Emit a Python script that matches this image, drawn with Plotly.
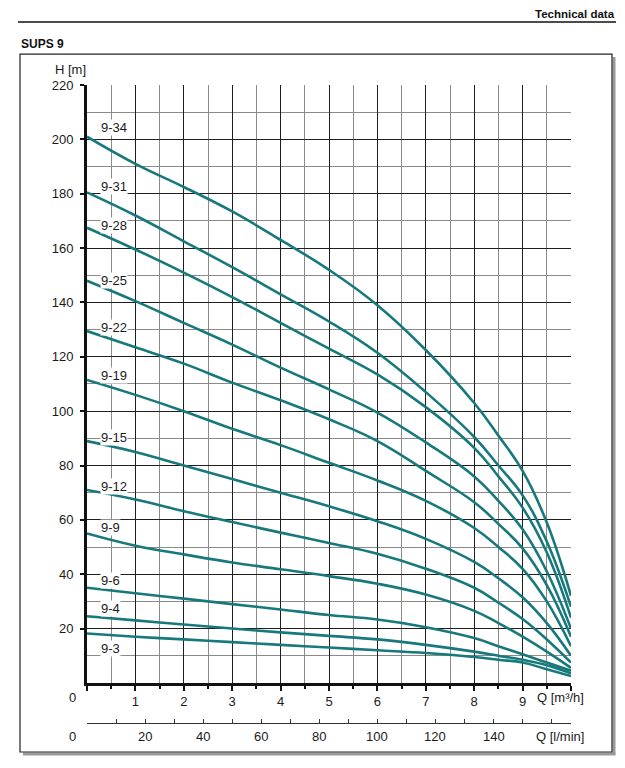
import plotly.graph_objects as go

W, H = 625, 768

# ---------------- data ----------------
q_m3h = [0, 1, 2, 3, 4, 5, 6, 7, 8, 8.5, 9, 9.5, 10]

curve_names = ["9-34", "9-31", "9-28", "9-25", "9-22", "9-19",
               "9-15", "9-12", "9-9", "9-6", "9-4", "9-3"]

h_9_34 = [201, 191, 182.5, 173.5, 163, 152, 139, 122.5, 103, 91, 78, 59, 32]
h_9_31 = [180.5, 172, 162.5, 153, 143, 133, 121.5, 107, 90.5, 80, 69, 52, 28]
h_9_28 = [167.5, 159.5, 151, 142, 132.5, 123, 113.5, 101.5, 86.5, 76, 64.5, 48, 24]
h_9_25 = [148, 140.5, 132.5, 124.5, 116, 108, 99.5, 88.5, 76, 67, 56.5, 41, 20]
h_9_22 = [129.5, 123.5, 117.5, 110.5, 104, 97, 89, 78, 66.5, 58.5, 49.5, 36, 17]
h_9_19 = [111.5, 106, 100, 93.5, 87.5, 81, 74.5, 67, 57, 50, 42, 30, 13.5]
h_9_15 = [89, 85, 80, 75, 70, 65, 59.5, 53, 44.5, 38.5, 31.5, 22, 10]
h_9_12 = [71, 67.5, 63.2, 59.2, 55.3, 51.5, 47.5, 42, 35, 29.5, 23.5, 16, 7.5]
h_9_9 = [55, 50.5, 47.3, 44.3, 41.8, 39.3, 36.5, 32.5, 26.5, 22, 17, 11.5, 5.5]
h_9_6 = [35, 33, 31, 29, 27, 25, 23.3, 20.5, 16.5, 13.5, 10.5, 7.5, 4.5]
h_9_4 = [24.5, 23, 21.5, 20, 18.6, 17.3, 16, 14, 11.5, 10, 8.5, 6.5, 3.5]
h_9_3 = [18.2, 17, 16, 15, 14, 13, 12, 11, 9.5, 8.5, 7.5, 5, 2.5]

curves = [h_9_34, h_9_31, h_9_28, h_9_25, h_9_22, h_9_19,
          h_9_15, h_9_12, h_9_9, h_9_6, h_9_4, h_9_3]

# curve label heights (m)
label_h = [204.5, 182.8, 168.5, 148.2, 130.9, 113.2,
           90.4, 72.3, 57.2, 37.7, 27.3, 12.5]
label_q = 0.27

x_ticks = [0, 1, 2, 3, 4, 5, 6, 7, 8, 9, 10]
x_ticktext = ["", "1", "2", "3", "4", "5", "6", "7", "8", "9", ""]
y_ticks = [20, 40, 60, 80, 100, 120, 140, 160, 180, 200, 220]
lmin_ticks = [0, 10, 20, 30, 40, 50, 60, 70, 80, 90, 100, 110, 120, 130, 140, 150, 160]
lmin_labels = [20, 40, 60, 80, 100, 120, 140]

Q_MAX = 10
LMIN_MAX = Q_MAX * 1000 / 60

# ---------------- figure ----------------
TEAL = "#17797b"
FONT = "Liberation Sans, Arial, sans-serif"
FS = 13

TOP_OFF = 8.0      # observed offset of the rendered page
EFF_H = H - TOP_OFF

def px_x(p):
    return p / W

def px_y(p):
    return 1 - (p - TOP_OFF) / EFF_H

fig = go.Figure()

for name, h in zip(curve_names, curves):
    fig.add_trace(go.Scatter(
        x=q_m3h, y=h, mode="lines", name=name,
        line=dict(color=TEAL, width=2.6, shape="spline", smoothing=1.2),
        showlegend=False, hoverinfo="skip"))

fig.add_trace(go.Scatter(x=[0, LMIN_MAX], y=[0, 0], xaxis="x2", mode="lines",
                         line=dict(width=0, color="rgba(0,0,0,0)"),
                         showlegend=False, hoverinfo="skip"))

xdom = [px_x(87), px_x(571)]
ydom = [px_y(683), px_y(86)]

fig.update_layout(
    width=W, height=H, autosize=False,
    margin=dict(l=0, r=0, t=0, b=0),
    paper_bgcolor="white", plot_bgcolor="white",
    font=dict(family=FONT, size=FS, color="#1a1a1a"),
    xaxis=dict(
        domain=xdom, range=[0, Q_MAX], anchor="y",
        tickmode="array", tickvals=x_ticks, ticktext=x_ticktext,
        ticks="outside", ticklen=5, tickwidth=1.5, tickcolor="#111",
        showline=True, linewidth=3, linecolor="#111",
        showgrid=True, gridcolor="#1e1e1e", gridwidth=1,
        minor=dict(dtick=0.5, tick0=0, showgrid=True, gridcolor="#8a8a8a",
                   gridwidth=1.4, ticks="outside", ticklen=3, tickcolor="#111"),
        zeroline=False, tickfont=dict(size=FS, family=FONT),
        fixedrange=True,
    ),
    xaxis2=dict(
        domain=xdom, range=[0, LMIN_MAX], anchor="free", overlaying="x",
        position=px_y(723), side="bottom",
        tickmode="array", tickvals=lmin_ticks, showticklabels=False,
        ticks="inside", ticklen=4, tickwidth=1, tickcolor="#333",
        showline=True, linewidth=1.3, linecolor="#333",
        showgrid=False, zeroline=False,
    ),
    yaxis=dict(
        domain=ydom, range=[0, 220],
        tickmode="array", tickvals=y_ticks,
        ticks="outside", ticklen=4, tickwidth=1.5, tickcolor="#111",
        showline=True, linewidth=3, linecolor="#111",
        showgrid=True, gridcolor="#1e1e1e", gridwidth=1,
        minor=dict(dtick=10, tick0=0, showgrid=True, gridcolor="#8a8a8a",
                   gridwidth=1.4),
        zeroline=False, ticklabelstandoff=4,
        tickfont=dict(size=FS, family=FONT),
        fixedrange=True,
    ),
)

ann = []
for name, hv in zip(curve_names, label_h):
    ann.append(dict(x=label_q, y=hv, xref="x", yref="y", text=name,
                    showarrow=False, xanchor="left", yanchor="middle",
                    bgcolor="white", borderpad=0,
                    font=dict(size=FS, family=FONT, color="#1a1a1a")))

ann.append(dict(x=px_x(72), y=px_y(698), xref="paper", yref="paper", text="0",
                showarrow=False, xanchor="center", yanchor="middle",
                font=dict(size=FS, family=FONT)))
ann.append(dict(x=px_x(72), y=px_y(737), xref="paper", yref="paper", text="0",
                showarrow=False, xanchor="center", yanchor="middle",
                font=dict(size=FS, family=FONT)))
for v in lmin_labels:
    ann.append(dict(x=v, y=px_y(737), xref="x2", yref="paper", text=str(v),
                    showarrow=False, xanchor="center", yanchor="middle",
                    font=dict(size=FS, family=FONT)))

ann.append(dict(x=px_x(586), y=px_y(698), xref="paper", yref="paper",
                text="Q [m³/h]", showarrow=False, xanchor="right",
                yanchor="middle", font=dict(size=FS, family=FONT)))
ann.append(dict(x=px_x(586), y=px_y(737), xref="paper", yref="paper",
                text="Q [l/min]", showarrow=False, xanchor="right",
                yanchor="middle", font=dict(size=FS, family=FONT)))
ann.append(dict(x=px_x(53), y=px_y(70), xref="paper", yref="paper",
                text="H [m]", showarrow=False, xanchor="left",
                yanchor="middle", font=dict(size=FS, family=FONT)))
ann.append(dict(x=px_x(19), y=px_y(45), xref="paper", yref="paper",
                text="<b>SUPS 9</b>", showarrow=False, xanchor="left",
                yanchor="middle", font=dict(size=12, family=FONT, color="#111")))
ann.append(dict(x=px_x(616), y=1.0, xref="paper", yref="paper",
                text="<b>Technical data</b>", showarrow=False, xanchor="right",
                yanchor="top", borderpad=0, font=dict(size=11.5, family=FONT, color="#111")))
fig.update_layout(annotations=ann)

shapes = [
    dict(type="line", xref="paper", yref="paper",
         x0=px_x(18), x1=px_x(616), y0=px_y(23), y1=px_y(23),
         line=dict(color="#111", width=1.5)),
    dict(type="line", xref="paper", yref="paper",
         x0=px_x(614), x1=px_x(614), y0=px_y(58), y1=px_y(754.5),
         line=dict(color="#9a9a9a", width=3)),
    dict(type="line", xref="paper", yref="paper",
         x0=px_x(23), x1=px_x(615.5), y0=px_y(754), y1=px_y(754),
         line=dict(color="#9a9a9a", width=3)),
    dict(type="rect", xref="paper", yref="paper",
         x0=px_x(20), x1=px_x(612), y0=px_y(752), y1=px_y(55),
         line=dict(color="#222", width=1.2)),
]
fig.update_layout(shapes=shapes)

fig.write_html("out.html")
